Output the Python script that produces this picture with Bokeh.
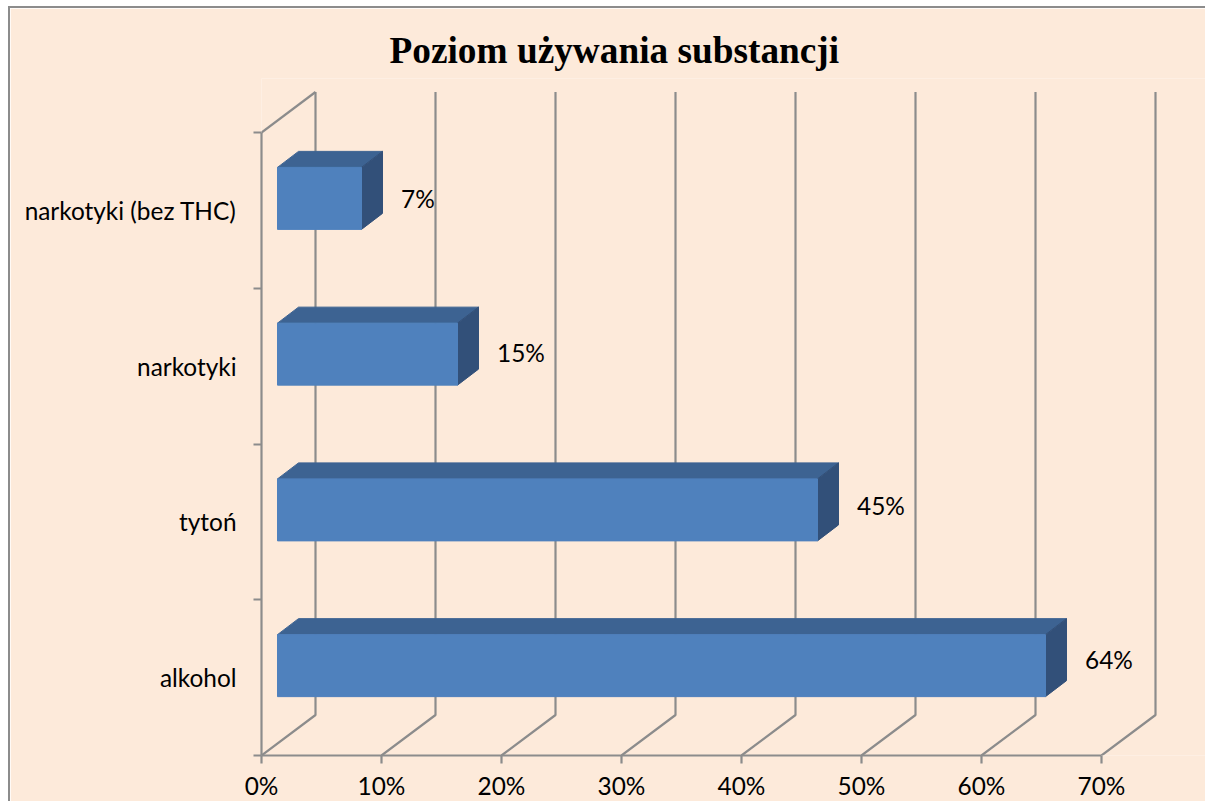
from bokeh.plotting import figure
from bokeh.models import LinearAxis, FixedTicker, Range1d, Title
from bokeh.core.properties import value
from bokeh.embed import file_html
from bokeh.resources import INLINE

categories = ["alkohol", "tytoń", "narkotyki", "narkotyki (bez THC)"]
percentages = [64, 45, 15, 7]
x_ticks = [0, 10, 20, 30, 40, 50, 60, 70]
x_tick_labels = ["0%", "10%", "20%", "30%", "40%", "50%", "60%", "70%"]
title_text = "Poziom używania substancji"

BG = "#FDEADA"
GRID = "#8C8C8C"
FRONT = "#4F81BD"
TOP = "#3D6392"
SIDE = "#325079"
TEXT = "#000000"
FONT = "Lato"

PX_X = 12.0
PX_Y = 155.75
WALL_DX = 54 / PX_X
WALL_DY = 40.5 / PX_Y
BAR_X0 = 16 / PX_X
BAR_DX = 21 / PX_X
BAR_DY = 16 / PX_Y
BAR_H = 62 / PX_Y
BAR_SHIFT = 12 / PX_Y

n = len(categories)
p = figure(
    width=1197, height=795, output_backend="svg", toolbar_location=None,
    x_range=Range1d(0, (1207 - 261) / PX_X),
    y_range=Range1d(0, (755 - 78) / PX_Y),
    x_axis_type=None, y_axis_type=None,
    min_border_left=251, min_border_right=0, min_border_top=70, min_border_bottom=48,
    background_fill_color=BG, border_fill_color=BG, outline_line_color=None,
)
p.grid.visible = False
p.styles = {"border-top": f"2px solid {GRID}", "border-left": f"2px solid {GRID}",
            "margin-top": "6px", "margin-left": "8px"}

p.add_layout(Title(text=title_text, text_font="Liberation Serif", text_font_style="bold",
                   text_font_size="37.3px", text_color=TEXT, align="left", offset=128,
                   standoff=16), "above")

# walls
wx, wy = [], []
for v in x_ticks:
    wx.append([v, v + WALL_DX, v + WALL_DX])
    wy.append([0, WALL_DY, n + WALL_DY])
wx.append([0, WALL_DX])
wy.append([n, n + WALL_DY])
p.multi_line(wx, wy, line_color=GRID, line_width=2.2)

# bars
ys = [i + 0.5 + BAR_SHIFT for i in range(n)]
lefts = [BAR_X0] * n
rights = [BAR_X0 + v for v in percentages]
tops_x, tops_y, sides_x, sides_y = [], [], [], []
for y, r in zip(ys, rights):
    yb, yt = y - BAR_H / 2, y + BAR_H / 2
    tops_x.append([BAR_X0, r, r + BAR_DX, BAR_X0 + BAR_DX])
    tops_y.append([yt, yt, yt + BAR_DY, yt + BAR_DY])
    sides_x.append([r, r + BAR_DX, r + BAR_DX, r])
    sides_y.append([yb, yb + BAR_DY, yt + BAR_DY, yt])
p.patches(tops_x, tops_y, fill_color=TOP, line_color=TOP)
p.patches(sides_x, sides_y, fill_color=SIDE, line_color=SIDE)
p.hbar(y=ys, left=lefts, right=rights, height=BAR_H, fill_color=FRONT, line_color=FRONT)

# value labels
lx = [r + BAR_DX for r in rights]
ly = [(755 - 659) / PX_Y + i * 0.987 for i in range(n)]
p.text(lx, ly, text=[f"{v}%" for v in percentages], x_offset=18.5,
       text_font=value(FONT), text_font_size="24.4px", text_color=TEXT,
       text_align="left", text_baseline="middle")

# axes
xa = LinearAxis(ticker=FixedTicker(ticks=x_ticks), bounds=(0, 70),
                major_label_overrides={t: l for t, l in zip(x_ticks, x_tick_labels)},
                axis_line_color=GRID, axis_line_width=2.2,
                major_tick_line_color=GRID, major_tick_line_width=2.2,
                major_tick_in=0, major_tick_out=8, minor_tick_line_color=None,
                major_label_standoff=7, major_label_text_font=FONT,
                major_label_text_font_size="24.4px", major_label_text_color=TEXT)
p.add_layout(xa, "below")

centers = [i + 0.5 for i in range(n)]
bounds_ticks = list(range(n + 1))
ya = LinearAxis(ticker=FixedTicker(ticks=centers, minor_ticks=bounds_ticks), bounds=(0, n),
                major_label_overrides={c: l for c, l in zip(centers, categories)},
                axis_line_color=GRID, axis_line_width=2.2,
                major_tick_line_color=None, major_tick_in=0, major_tick_out=0,
                minor_tick_line_color=GRID, minor_tick_line_width=2.2,
                minor_tick_in=0, minor_tick_out=8,
                major_label_standoff=17, major_label_text_font=FONT,
                major_label_text_font_size="24.4px", major_label_text_color=TEXT)
p.add_layout(ya, "left")

open("out.html", "w").write(file_html(p, INLINE))
